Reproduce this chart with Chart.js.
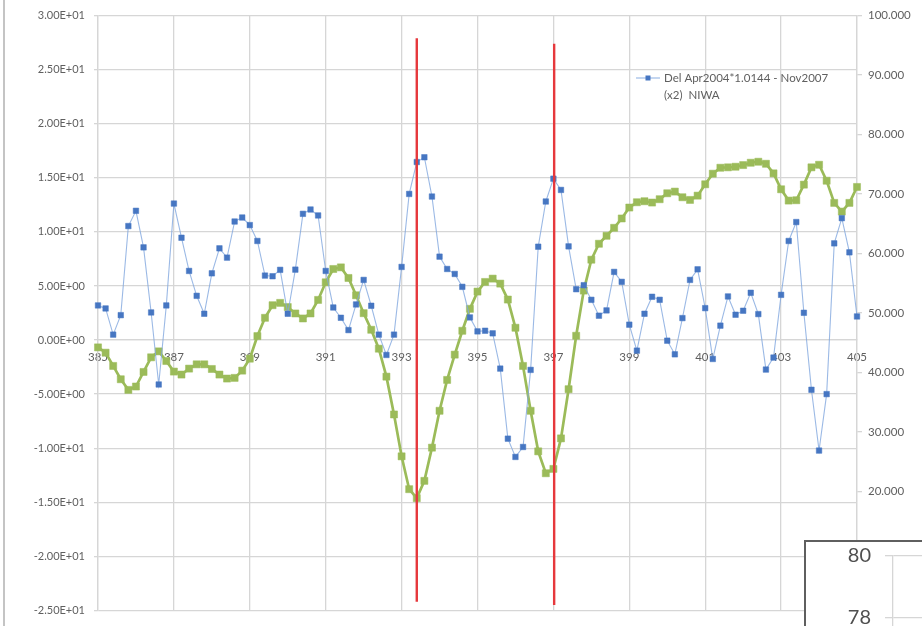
<!DOCTYPE html>
<html>
<head>
<meta charset="utf-8">
<script src="https://cdn.jsdelivr.net/npm/chart.js@4/dist/chart.umd.min.js"></script>
<style>
  html, body { margin: 0; padding: 0; background: #fff; overflow: hidden; }
  #wrap { position: relative; width: 922px; height: 626px; }
  #main { position: absolute; left: 0; top: 0; }
  #frame { position: absolute; left: 3px; top: 0; width: 0; height: 626px; border-left: 2px solid #c4c4c4; }
  #inset { position: absolute; left: 804px; top: 540px; width: 130px; height: 100px; overflow: hidden;
           background: #fff; border-left: 2px solid #5f5f5f; border-top: 2px solid #5f5f5f; }
  #insetCanvas { display: block; margin-top: -12px; }
</style>
</head>
<body>
<div id="wrap">
  <canvas id="main" width="922" height="626"></canvas>
  <div id="frame"></div>
  <div id="inset"><canvas id="insetCanvas" width="130" height="176"></canvas></div>
</div>
<script>
// Sample positions along the x axis (every 0.2 from 385 to 405)
const positions = Array.from({ length: 101 }, (_, i) => +(385 + i * 0.2).toFixed(1));

// Labelled x ticks
const xTickValues = [385, 387, 389, 391, 393, 395, 397, 399, 401, 403, 405];

// Del series (left axis)
const delValues = [
  3.2, 2.92, 0.5, 2.3, 10.54, 11.95, 8.57, 2.55, -4.11, 3.2,
  12.62, 9.46, 6.39, 4.09, 2.43, 6.17, 8.48, 7.62, 10.96, 11.33,
  10.63, 9.16, 5.96, 5.9, 6.49, 2.43, 6.51, 11.67, 12.07, 11.52,
  6.39, 3.01, 2.06, 0.92, 3.29, 5.56, 3.17, 0.5, -1.38, 0.5,
  6.76, 13.51, 16.46, 16.9, 13.27, 7.71, 6.57, 6.11, 4.92, 2.09,
  0.8, 0.86, 0.62, -2.64, -9.12, -10.81, -9.89, -2.76, 8.63, 12.81,
  14.92, 13.88, 8.66, 4.7, 5.07, 3.72, 2.25, 2.74, 6.3, 5.38,
  1.42, -0.98, 2.43, 4.0, 3.72, -0.06, -1.32, 2.03, 5.56, 6.54,
  2.95, -1.75, 1.33, 4.03, 2.34, 2.71, 4.37, 2.4, -2.73, -1.62,
  4.18, 9.16, 10.91, 2.52, -4.6, -10.22, -5.0, 8.94, 11.27, 8.11,
  2.18
];

// Green series (right axis)
const greenValues = [
  44.22, 43.33, 41.1, 38.86, 37.07, 37.64, 40.09, 42.55, 43.55, 41.93,
  40.15, 39.65, 40.65, 41.37, 41.37, 40.59, 39.65, 38.98, 39.09, 40.31,
  42.32, 46.12, 49.19, 51.31, 51.7, 51.0, 49.92, 49.08, 49.92, 52.2,
  55.16, 57.4, 57.67, 55.89, 52.98, 49.97, 47.18, 44.0, 39.3, 32.94,
  25.9, 20.38, 18.87, 21.78, 27.36, 33.56, 38.75, 43.0, 47.01, 50.7,
  53.6, 55.22, 55.78, 54.94, 52.26, 47.52, 41.1, 33.56, 26.74, 23.06,
  23.79, 28.92, 37.19, 46.17, 53.77, 58.96, 61.64, 62.98, 64.32, 65.89,
  67.73, 68.62, 68.79, 68.57, 69.13, 70.13, 70.41, 69.46, 69.01, 69.73,
  71.64, 73.42, 74.42, 74.49, 74.59, 74.87, 75.26, 75.43, 75.09, 73.48,
  70.8, 68.9, 68.96, 71.58, 74.49, 74.92, 72.24, 68.51, 67.05, 68.51,
  71.19
];

// Vertical red markers: x position, top and bottom (left-axis units)
const markerX = [393.4, 397.02];
const markerTop = [27.9, 27.4];
const markerBottom = [-24.2, -24.5];

const legendLines = ['Del Apr2004*1.0144 - Nov2007', '(x2)  NIWA'];

// Inset axis ticks
const insetTicks = [76, 78, 80];

const FONT = 'Lato, "Liberation Sans", sans-serif';
const TEXT = '#5f5f5f';
const GRID = '#d6d6d6';
const BLUE = '#4676c2';
const BLUE_LINE = 'rgba(130,168,222,0.8)';
const GREEN = '#9bbb59';
const RED = '#e6383c';

function sci(v) {
  const [m, e] = Number(v).toExponential(2).split('e');
  const n = parseInt(e, 10);
  return m + 'E' + (n < 0 ? '-' : '+') + String(Math.abs(n)).padStart(2, '0');
}

const toPoints = vals => positions.map((x, i) => ({ x, y: vals[i] }));

const markerSets = markerX.map((x, i) => ({
  label: 'marker' + i,
  data: [{ x, y: markerTop[i] }, { x, y: markerBottom[i] }],
  yAxisID: 'y',
  borderColor: RED,
  borderWidth: 2.4,
  pointRadius: 0,
  order: 0,
  clip: false
}));

// Single-entry key for the Del series, wrapped over two lines
const seriesKey = {
  id: 'seriesKey',
  afterDraw(chart) {
    const ctx = chart.ctx;
    const x0 = 636, y0 = 78;
    ctx.save();
    ctx.strokeStyle = BLUE_LINE;
    ctx.lineWidth = 1.2;
    ctx.beginPath();
    ctx.moveTo(x0, y0);
    ctx.lineTo(x0 + 24, y0);
    ctx.stroke();
    ctx.fillStyle = BLUE;
    ctx.fillRect(x0 + 9.5, y0 - 2.5, 5, 5);
    ctx.fillStyle = TEXT;
    ctx.font = '11.5px ' + FONT;
    ctx.textBaseline = 'middle';
    ctx.textAlign = 'left';
    ctx.fillText(legendLines[0], x0 + 28, y0);
    ctx.fillText(legendLines[1], x0 + 28, y0 + 17);
    ctx.restore();
  }
};

new Chart(document.getElementById('main'), {
  type: 'line',
  data: {
    datasets: [
      ...markerSets,
      {
        label: legendLines.join(' '),
        data: toPoints(delValues),
        yAxisID: 'y',
        borderColor: BLUE_LINE,
        borderWidth: 1.1,
        pointStyle: 'rect',
        pointRadius: 3.9,
        pointBackgroundColor: BLUE,
        pointBorderColor: BLUE,
        pointBorderWidth: 0.5,
        tension: 0,
        order: 1,
        clip: false
      },
      {
        label: 'green',
        data: toPoints(greenValues),
        yAxisID: 'y1',
        borderColor: GREEN,
        borderWidth: 2.7,
        pointStyle: 'rect',
        pointRadius: 5,
        pointBackgroundColor: GREEN,
        pointBorderColor: GREEN,
        pointBorderWidth: 0.5,
        tension: 0,
        order: 2,
        clip: false
      }
    ]
  },
  options: {
    responsive: false,
    animation: false,
    devicePixelRatio: 1,
    layout: { padding: { top: 15, bottom: 14, left: 0, right: 0 } },
    plugins: { legend: { display: false }, tooltip: { enabled: false } },
    scales: {
      x: {
        type: 'linear',
        min: 385,
        max: 405,
        position: { y: 0 },
        afterBuildTicks(scale) { scale.ticks = xTickValues.map(value => ({ value })); },
        ticks: { color: TEXT, font: { family: FONT, size: 11.5 }, padding: 10, maxRotation: 0, autoSkip: false,
                 callback: v => String(v) },
        grid: { color: GRID, lineWidth: 1.3, drawTicks: false },
        border: { color: GRID, width: 1.3 }
      },
      y: {
        position: 'left',
        min: -25,
        max: 30,
        ticks: { stepSize: 5, color: TEXT, font: { family: FONT, size: 11 }, padding: 9, callback: v => sci(v) },
        grid: { color: GRID, lineWidth: 1.3, tickLength: 4 },
        border: { color: GRID, width: 1.3 },
        afterFit(scale) { scale.width = 98; }
      },
      y1: {
        position: 'right',
        min: 0,
        max: 100,
        ticks: { stepSize: 10, color: TEXT, font: { family: FONT, size: 11.5 }, padding: 6, callback: v => Number(v).toFixed(3) },
        grid: { drawOnChartArea: false, color: GRID, lineWidth: 1.3, tickLength: 5 },
        border: { color: GRID, width: 1.3 },
        afterFit(scale) { scale.width = 65; }
      }
    }
  },
  plugins: [seriesKey]
});

// Corner of an overlapping chart: a bare value axis
new Chart(document.getElementById('insetCanvas'), {
  type: 'line',
  data: { datasets: [] },
  options: {
    responsive: false,
    animation: false,
    devicePixelRatio: 1,
    layout: { padding: 0 },
    plugins: { legend: { display: false }, tooltip: { enabled: false } },
    scales: {
      x: { type: 'linear', display: false, min: 0, max: 1 },
      y: {
        min: insetTicks[0],
        max: insetTicks[insetTicks.length - 1],
        afterBuildTicks(scale) { scale.ticks = insetTicks.map(value => ({ value })); },
        ticks: { color: '#505050', font: { family: FONT, size: 20 }, padding: 14 },
        grid: { color: GRID, lineWidth: 1.3, tickLength: 8 },
        border: { color: GRID, width: 1.3 },
        afterFit(scale) { scale.width = 87; }
      }
    }
  }
});
</script>
</body>
</html>
